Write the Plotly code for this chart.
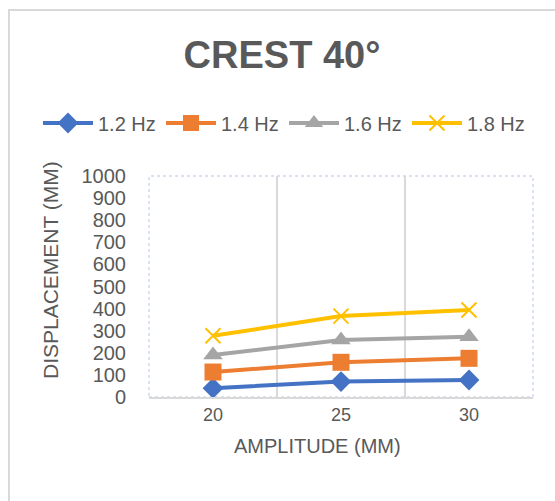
import plotly.graph_objects as go

amplitudes = ["20", "25", "30"]
hz_1_2 = [40, 70, 77]
hz_1_4 = [113, 157, 175]
hz_1_6 = [190, 258, 273]
hz_1_8 = [277, 366, 394]
series_names = ["1.2 Hz", "1.4 Hz", "1.6 Hz", "1.8 Hz"]
y_ticks = list(range(0, 1001, 100))

FONT = "Liberation Sans, Arial, sans-serif"
TXT = "#595959"

styles = [
    dict(color="#4472C4", symbol="diamond", size=16, lw=0),
    dict(color="#ED7D31", symbol="square", size=17, lw=0),
    dict(color="#A5A5A5", symbol="triangle-up", size=17, lw=0),
    dict(color="#FFC000", symbol="x-thin-open", size=15, lw=2),
]

fig = go.Figure()
for name, vals, st in zip(series_names, [hz_1_2, hz_1_4, hz_1_6, hz_1_8], styles):
    fig.add_trace(go.Scatter(
        x=amplitudes, y=vals, name=name, mode="lines+markers",
        line=dict(color=st["color"], width=4),
        marker=dict(symbol=st["symbol"], size=st["size"], color=st["color"],
                    line=dict(color=st["color"], width=st["lw"])),
    ))

L, R, T, B = 149, 22, 176, 104
W, H = 555, 501
pw, ph = W - L - R, H - T - B

def px_x(p):
    return (p - L) / pw

def px_y(p):
    return (H - B - p) / ph

fig.update_layout(
    width=W, height=H,
    margin=dict(l=L, r=R, t=T, b=B, pad=0, autoexpand=False),
    paper_bgcolor="white", plot_bgcolor="white",
    font=dict(family=FONT, color=TXT),
    title=dict(text="<b>CREST 40°</b>", x=282 / W, xanchor="center",
               y=1 - 55 / H, yanchor="middle",
               font=dict(family=FONT, size=38, color=TXT)),
    showlegend=True,
    legend=dict(orientation="h", x=px_x(38), xanchor="left",
                y=px_y(123), yanchor="middle",
                font=dict(family=FONT, size=20, color=TXT),
                itemwidth=50, entrywidth=58, entrywidthmode="pixels",
                bgcolor="rgba(0,0,0,0)"),
    xaxis=dict(type="category", range=[-0.5, 2.5], tickson="boundaries",
               showgrid=True, gridcolor="#D9D9D9", gridwidth=2,
               showline=True, linecolor="#D9D9D9", linewidth=2,
               ticks="", automargin=False,
               tickfont=dict(family=FONT, size=18, color=TXT),
               zeroline=False),
    yaxis=dict(range=[0, 1000], tickvals=y_ticks, showgrid=False,
               showline=False, zeroline=False, ticks="", automargin=False,
               ticklabelstandoff=22,
               tickfont=dict(family=FONT, size=20, color=TXT)),
    annotations=[
        dict(text="DISPLACEMENT (MM)", textangle=-90, xref="paper", yref="paper",
             x=px_x(50), y=px_y(270), xanchor="center", yanchor="middle",
             showarrow=False, font=dict(family=FONT, size=21, color=TXT)),
        dict(text="AMPLITUDE (MM)", xref="paper", yref="paper",
             x=px_x(317), y=px_y(446), xanchor="center", yanchor="middle",
             showarrow=False, font=dict(family=FONT, size=20, color=TXT)),
    ],
    shapes=[
        dict(type="rect", xref="paper", yref="paper",
             x0=0, x1=1, y0=0, y1=1,
             line=dict(color="#B4C7E7", width=1, dash="dot"),
             layer="below"),
        dict(type="rect", xref="paper", yref="paper",
             x0=px_x(9), x1=px_x(600), y0=px_y(600), y1=px_y(10),
             line=dict(color="#D9D9D9", width=2)),
    ],
)

fig.write_html("out.html", config={"displayModeBar": False},
               post_script="document.body.style.margin='0';document.body.style.padding='0';")
